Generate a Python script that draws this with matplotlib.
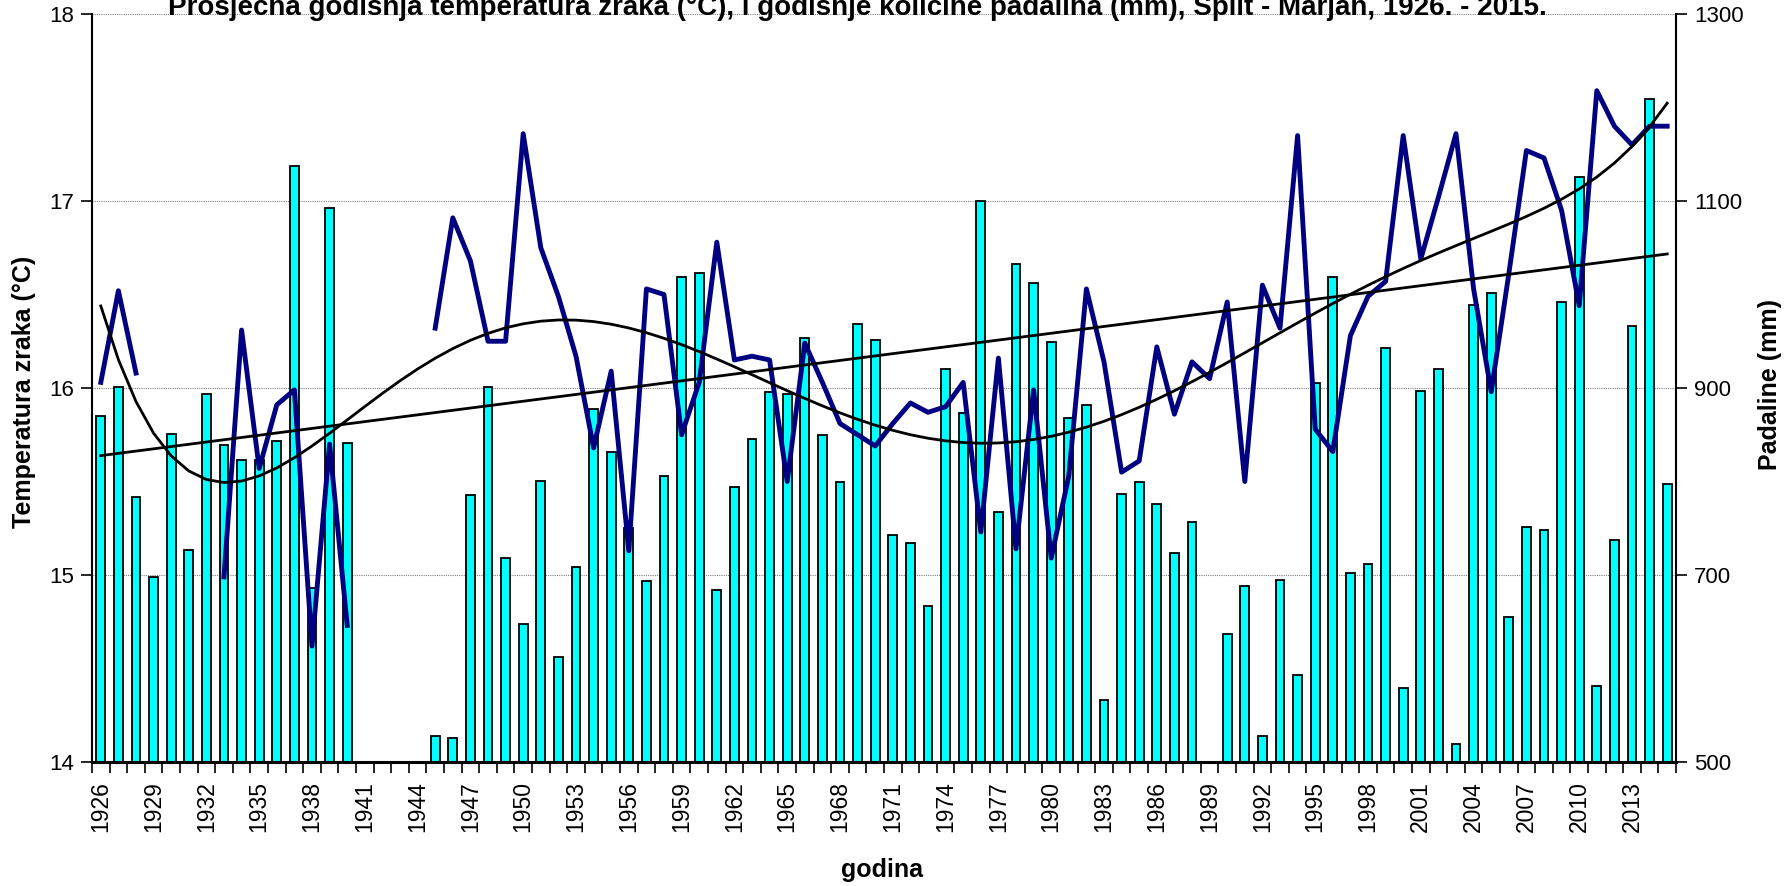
import numpy as np
import matplotlib
matplotlib.use("Agg")
import matplotlib.pyplot as plt

plt.rcParams['font.family'] = ['Liberation Sans', 'DejaVu Sans']

years = list(range(1926, 2016))

nan = np.nan
# average annual air temperature (°C)
temperature = [
    16.03, 16.52, 16.08, nan, nan, nan, nan, 14.99, 16.31, 15.57,
    15.91, 15.99, 14.62, 15.70, 14.73, nan, nan, nan, nan, 16.32,
    16.91, 16.68, 16.25, 16.25, 17.36, 16.75, 16.49, 16.17, 15.68, 16.09,
    15.13, 16.53, 16.50, 15.75, 16.03, 16.78, 16.15, 16.17, 16.15, 15.50,
    16.24, 16.03, 15.81, 15.75, 15.69, 15.81, 15.92, 15.87, 15.90, 16.03,
    15.23, 16.16, 15.14, 15.99, 15.09, 15.53, 16.53, 16.14, 15.55, 15.61,
    16.22, 15.86, 16.14, 16.05, 16.46, 15.50, 16.55, 16.32, 17.35, 15.78,
    15.66, 16.28, 16.49, 16.57, 17.35, 16.69, 17.02, 17.36, 16.53, 15.98,
    16.61, 17.27, 17.23, 16.95, 16.44, 17.59, 17.40, 17.30, 17.40, 17.40,
]

# annual precipitation (mm)
precipitation = [
    870, 901, 783, 698, 851, 727, 894, 839, 823, 823,
    843, 1137, 686, 1093, 841, nan, nan, nan, nan, 528,
    526, 786, 901, 718, 648, 801, 612, 709, 878, 832,
    750, 694, 806, 1019, 1023, 684, 794, 845, 896, 894,
    954, 850, 799, 968, 951, 743, 734, 667, 920, 873,
    1100, 767, 1033, 1012, 949, 868, 882, 566, 787, 799,
    776, 723, 757, nan, 637, 688, 528, 695, 593, 905,
    1019, 702, 712, 943, 579, 897, 920, 519, 989, 1002,
    655, 751, 748, 992, 1126, 581, 737, 966, 1209, 797,
]

temp_ticks = [14, 15, 16, 17, 18]
prec_ticks = [500, 700, 900, 1100, 1300]

title = ('Prosječna godišnja temperatura zraka (°C), i godišnje količine padalina (mm), '
         'Split - Marjan, 1926. - 2015.')

temp = np.array(temperature, dtype=float)
prec = np.array(precipitation, dtype=float)
x = np.arange(len(years))

W, H = 1785, 886
fig = plt.figure(figsize=(W / 100, H / 100), dpi=100)
ax = fig.add_axes([92 / W, 1 - 762 / H, (1676 - 92) / W, (762 - 14) / H])
ax2 = ax.twinx()
# lines on top of bars
ax.set_zorder(ax2.get_zorder() + 1)
ax.patch.set_visible(False)

# precipitation bars (right axis)
ax2.bar(x, prec, width=0.5, color='#00FFFF', edgecolor='black', linewidth=1.3, zorder=2)
ax2.set_ylim(prec_ticks[0], prec_ticks[-1])
ax2.set_yticks(prec_ticks)
ax2.grid(axis='y', color='#808080', linestyle=(0, (1, 1)), linewidth=0.8, zorder=0)
ax2.set_axisbelow(True)

# temperature line + linear and 6th order polynomial trends (left axis)
ax.plot(x, temp, color='#000080', linewidth=3.5, zorder=3)
ok = ~np.isnan(temp)
lin = np.polyfit(x[ok], temp[ok], 1)
ax.plot(x, np.polyval(lin, x), color='black', linewidth=2.0, zorder=4)
xc = (x - x.mean()) / 30.0
poly = np.polyfit(xc[ok], temp[ok], 6)
ax.plot(x, np.polyval(poly, xc), color='black', linewidth=2.0, zorder=4)

ax.set_ylim(temp_ticks[0], temp_ticks[-1])
ax.set_yticks(temp_ticks)
ax.set_xlim(-0.5, len(years) - 0.5)

ax.set_xticks(x[::3])
ax.set_xticklabels([str(y) for y in years[::3]], rotation=90, fontsize=16.5)
ax.set_xticks(np.arange(-0.5, len(years)), minor=True)
ax.tick_params(axis='x', which='major', length=0, pad=14)
ax.tick_params(axis='x', which='minor', length=8, width=1.2, direction='out')
ax.tick_params(axis='y', length=8, width=1.2, labelsize=16, pad=5)
ax2.tick_params(axis='y', length=8, width=1.2, labelsize=16, pad=5)

for a in (ax, ax2):
    a.spines['top'].set_visible(False)
ax.spines['bottom'].set_linewidth(2.2)
ax.spines['left'].set_linewidth(1.5)
ax.spines['right'].set_visible(False)
ax2.spines['right'].set_linewidth(1.5)
ax2.spines['left'].set_visible(False)
ax2.spines['bottom'].set_visible(False)

fig.text(24 / W, 1 - 392 / H, 'Temperatura zraka (°C)', rotation=90,
         ha='center', va='center', fontsize=18, fontweight='bold')
fig.text(1770 / W, 1 - 384 / H, 'Padaline (mm)', rotation=90,
         ha='center', va='center', fontsize=18, fontweight='bold')
fig.text(882 / W, 1 - 870 / H, 'godina',
         ha='center', va='center', fontsize=18, fontweight='bold')

fig.text(857 / W, 1 - 15 / H, title,
         ha='center', va='baseline', fontsize=20, fontweight='bold')

fig.savefig('out.png', dpi=100)
